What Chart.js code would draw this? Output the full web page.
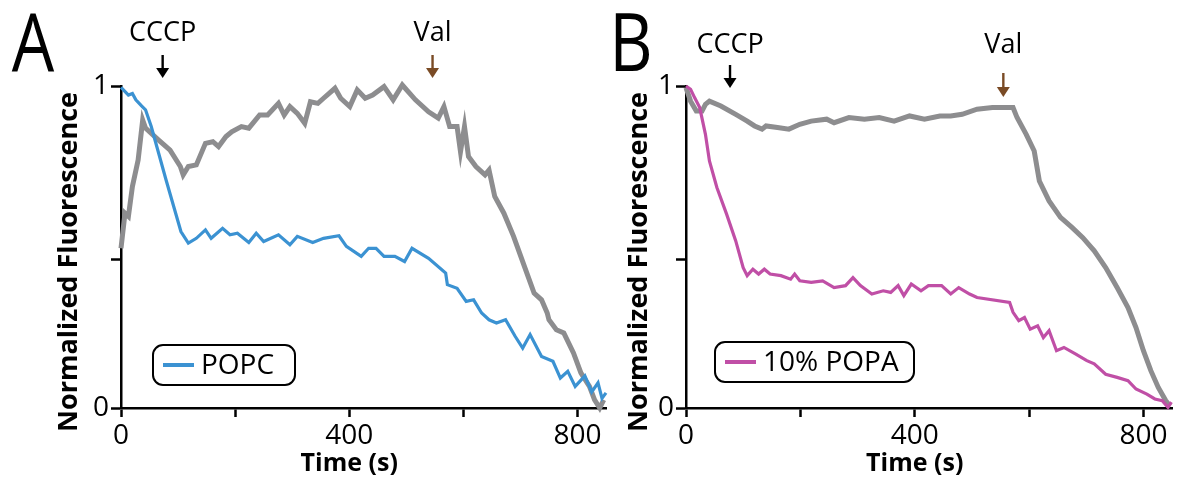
<!DOCTYPE html>
<html>
<head>
<meta charset="utf-8">
<script src="https://cdn.jsdelivr.net/npm/chart.js@4.4.0/dist/chart.umd.min.js"></script>
<style>
  body { margin: 0; background: #fff; }
  #wrap { position: relative; width: 1178px; height: 481px; overflow: hidden; }
  canvas { position: absolute; top: 0; }
  #chartA { left: 0; }
  #chartB { left: 590px; }
</style>
</head>
<body>
<div id="wrap">
  <canvas id="chartA" width="620" height="481"></canvas>
  <canvas id="chartB" width="588" height="481"></canvas>
</div>
<script>
// ticks
const xTicks = [0, 200, 400, 600, 800];
const xTickLabels = ['0', '', '400', '', '800'];
const yTicks = [0, 0.46, 1];
const yTickLabels = ['0', '', '1'];

// Panel A - POPC (blue) e controle (cinza)
const popcTime = [0, 13, 20, 26, 36, 43, 53, 79, 105, 118, 132, 148, 158, 178, 191, 204, 224, 237, 250, 276, 296, 309, 336, 355, 382, 395, 421, 434, 447, 461, 480, 497, 510, 539, 569, 572, 589, 605, 618, 632, 645, 658, 674, 691, 704, 717, 737, 757, 770, 783, 796, 813, 825, 836, 843, 850];
const popcValues = [0.996, 0.972, 0.977, 0.957, 0.938, 0.926, 0.874, 0.708, 0.548, 0.512, 0.527, 0.553, 0.527, 0.558, 0.538, 0.543, 0.514, 0.543, 0.517, 0.538, 0.507, 0.533, 0.514, 0.527, 0.535, 0.502, 0.471, 0.496, 0.496, 0.471, 0.471, 0.455, 0.496, 0.465, 0.419, 0.383, 0.372, 0.331, 0.336, 0.295, 0.274, 0.264, 0.274, 0.222, 0.186, 0.228, 0.160, 0.145, 0.093, 0.114, 0.067, 0.100, 0.050, 0.078, 0.030, 0.047];

const ctrlATime = [0, 7, 13, 20, 30, 38, 43, 66, 86, 104, 109, 118, 132, 148, 161, 171, 184, 194, 211, 224, 243, 257, 276, 286, 296, 309, 322, 332, 345, 355, 375, 385, 401, 414, 428, 441, 461, 477, 493, 516, 539, 556, 566, 576, 589, 595, 602, 609, 622, 638, 645, 655, 671, 688, 707, 724, 737, 747, 750, 763, 776, 793, 806, 821, 830, 839, 846];
const ctrlAValues = [0.496, 0.605, 0.595, 0.688, 0.770, 0.894, 0.869, 0.832, 0.801, 0.750, 0.724, 0.750, 0.755, 0.822, 0.827, 0.812, 0.843, 0.858, 0.874, 0.869, 0.910, 0.910, 0.946, 0.910, 0.936, 0.915, 0.884, 0.951, 0.946, 0.962, 0.993, 0.962, 0.936, 0.988, 0.962, 0.972, 0.998, 0.957, 1.003, 0.957, 0.920, 0.900, 0.936, 0.874, 0.874, 0.796, 0.874, 0.781, 0.750, 0.724, 0.739, 0.657, 0.605, 0.533, 0.440, 0.357, 0.336, 0.295, 0.274, 0.243, 0.233, 0.171, 0.109, 0.067, 0.025, 0.0, 0.025];

// Panel B - 10% POPA (magenta) e controle (cinza)
const popaTime = [0, 8, 15, 24, 34, 41, 54, 71, 87, 100, 107, 117, 127, 137, 147, 166, 183, 190, 199, 219, 239, 259, 279, 292, 305, 325, 345, 358, 371, 381, 394, 411, 424, 447, 463, 477, 496, 509, 566, 572, 582, 592, 602, 615, 625, 635, 648, 661, 681, 701, 714, 734, 754, 773, 787, 806, 820, 833, 843, 849];
const popaValues = [1.0, 0.99, 0.964, 0.933, 0.850, 0.767, 0.685, 0.602, 0.519, 0.436, 0.411, 0.431, 0.416, 0.431, 0.416, 0.411, 0.400, 0.416, 0.395, 0.390, 0.395, 0.374, 0.380, 0.405, 0.380, 0.354, 0.364, 0.359, 0.380, 0.349, 0.385, 0.364, 0.380, 0.380, 0.354, 0.374, 0.354, 0.343, 0.328, 0.297, 0.271, 0.281, 0.245, 0.255, 0.219, 0.240, 0.178, 0.188, 0.168, 0.147, 0.137, 0.105, 0.095, 0.085, 0.059, 0.043, 0.028, 0.023, 0.002, 0.018];

const ctrlBTime = [0, 8, 18, 28, 34, 41, 61, 87, 107, 120, 133, 140, 160, 180, 199, 219, 246, 259, 285, 312, 338, 364, 391, 417, 444, 463, 483, 509, 536, 572, 579, 595, 609, 618, 635, 655, 675, 694, 714, 734, 754, 773, 787, 800, 813, 826, 839, 846];
const ctrlBValues = [0.995, 0.953, 0.922, 0.922, 0.943, 0.953, 0.938, 0.912, 0.891, 0.876, 0.866, 0.876, 0.871, 0.866, 0.881, 0.891, 0.897, 0.886, 0.902, 0.897, 0.902, 0.891, 0.907, 0.897, 0.907, 0.907, 0.912, 0.928, 0.933, 0.933, 0.902, 0.850, 0.798, 0.705, 0.643, 0.592, 0.561, 0.529, 0.488, 0.436, 0.374, 0.312, 0.250, 0.178, 0.116, 0.064, 0.023, 0.007];

const BLUE = '#3b92d2';
const MAGENTA = '#c04fa6';
const GRAY = '#8d8d8f';
const BROWN = '#7a4b25';
const FONT = '"Open Sans", "Noto Sans", sans-serif';

function pares(tempos, valores) {
    return tempos.map((t, i) => ({ x: t, y: valores[i] }));
}

// desenha textos e setas acima do gráfico
const anotacoesPlugin = {
    id: 'anotacoes',
    afterDraw(chart, args, opts) {
        const ctx = chart.ctx;
        const xs = chart.scales.x;
        ctx.save();

        // letra do painel
        ctx.fillStyle = '#000';
        ctx.textAlign = 'center';
        ctx.textBaseline = 'middle';
        ctx.save();
        ctx.translate(opts.letraX, 48);
        ctx.scale(0.84, 1);
        ctx.font = '80px ' + FONT;
        ctx.fillText(opts.letra, 0, 0);
        ctx.restore();

        // setas CCCP / Val
        opts.marcas.forEach(m => {
            const px = xs.getPixelForValue(m.tempo);
            ctx.fillStyle = '#000';
            ctx.font = '27px ' + FONT;
            ctx.fillText(m.texto, px, m.textoY);
            ctx.strokeStyle = m.cor;
            ctx.fillStyle = m.cor;
            ctx.lineWidth = 2.4;
            ctx.beginPath();
            ctx.moveTo(px, m.topo);
            ctx.lineTo(px, m.base - 8);
            ctx.stroke();
            ctx.beginPath();
            ctx.moveTo(px - 6.5, m.base - 10);
            ctx.lineTo(px + 6.5, m.base - 10);
            ctx.lineTo(px, m.base);
            ctx.closePath();
            ctx.fill();
        });

        // títulos dos eixos
        ctx.fillStyle = '#000';
        ctx.font = 'bold 27px ' + FONT;
        ctx.save();
        ctx.translate(opts.tituloYX, 262);
        ctx.rotate(-Math.PI / 2);
        ctx.fillText('Normalized Fluorescence', 0, 0);
        ctx.restore();
        ctx.font = 'bold 25px ' + FONT;
        ctx.fillText('Time (s)', xs.getPixelForValue(400), 464);

        // legenda
        const lg = opts.legenda;
        const ds = chart.data.datasets[0];
        ctx.strokeStyle = '#000';
        ctx.lineWidth = 2;
        ctx.beginPath();
        ctx.roundRect(lg.x, lg.y, lg.w, lg.h, 10);
        ctx.stroke();
        ctx.strokeStyle = ds.borderColor;
        ctx.lineWidth = 4;
        ctx.beginPath();
        ctx.moveTo(lg.x + 10, lg.y + lg.h / 2);
        ctx.lineTo(lg.x + 41, lg.y + lg.h / 2);
        ctx.stroke();
        ctx.fillStyle = '#000';
        ctx.font = '28px ' + FONT;
        ctx.textAlign = 'left';
        ctx.fillText(ds.label, lg.x + 48, lg.y + lg.h / 2 + 1);

        ctx.restore();
    }
};

function criarGrafico(id, cor, rotulo, dados, controle, cfg) {
    const ctx = document.getElementById(id).getContext('2d');
    return new Chart(ctx, {
        type: 'line',
        data: {
            datasets: [{
                label: rotulo,
                data: dados,
                borderColor: cor,
                borderWidth: 3.2,
                pointRadius: 0,
                tension: 0,
                clip: false
            }, {
                label: 'controle',
                data: controle,
                borderColor: GRAY,
                borderWidth: 5,
                pointRadius: 0,
                tension: 0,
                clip: false
            }]
        },
        options: {
            responsive: false,
            animation: false,
            layout: { padding: { left: 0, right: cfg.direita, top: 86, bottom: 0 } },
            plugins: {
                legend: { display: false },
                tooltip: { enabled: false },
                anotacoes: cfg.anotacoes
            },
            scales: {
                x: {
                    type: 'linear',
                    min: 0,
                    max: 850,
                    afterBuildTicks: s => { s.ticks = xTicks.map(v => ({ value: v })); },
                    afterFit: s => { s.height = 73; },
                    ticks: {
                        callback: (v, i) => xTickLabels[i],
                        font: { family: FONT, size: 28 },
                        color: '#000',
                        padding: 2,
                        maxRotation: 0,
                        autoSkip: false
                    },
                    grid: { drawOnChartArea: false, tickLength: 9, tickWidth: 2.5, tickColor: '#000' },
                    border: { display: true, color: '#000', width: 2.5 }
                },
                y: {
                    min: 0,
                    max: 1,
                    afterBuildTicks: s => { s.ticks = yTicks.map(v => ({ value: v })); },
                    afterFit: s => { s.width = cfg.larguraY; },
                    ticks: {
                        callback: (v, i) => yTickLabels[i],
                        font: { family: FONT, size: 28 },
                        color: '#000',
                        padding: 2,
                        autoSkip: false
                    },
                    grid: { drawOnChartArea: false, tickLength: 10, tickWidth: 2.5, tickColor: '#000' },
                    border: { display: true, color: '#000', width: 2.5 }
                }
            }
        },
        plugins: [anotacoesPlugin]
    });
}

criarGrafico('chartA', BLUE, 'POPC', pares(popcTime, popcValues), pares(ctrlATime, ctrlAValues), {
    larguraY: 121,
    direita: 14,
    anotacoes: {
        letra: 'A', letraX: 33, tituloYX: 69,
        marcas: [
            { texto: 'CCCP', tempo: 73, textoY: 33, topo: 55, base: 78, cor: '#000' },
            { texto: 'Val', tempo: 546, textoY: 33, topo: 55, base: 78, cor: BROWN }
        ],
        legenda: { x: 153, y: 345, w: 142, h: 40 }
    }
});

criarGrafico('chartB', MAGENTA, '10% POPA', pares(popaTime, popaValues), pares(ctrlBTime, ctrlBValues), {
    larguraY: 96,
    direita: 6,
    anotacoes: {
        letra: 'B', letraX: 41, tituloYX: 49,
        marcas: [
            { texto: 'CCCP', tempo: 77, textoY: 45, topo: 65, base: 88, cor: '#000' },
            { texto: 'Val', tempo: 555, textoY: 45, topo: 73, base: 97, cor: BROWN }
        ],
        legenda: { x: 125, y: 342, w: 199, h: 40 }
    }
});
</script>
</body>
</html>
